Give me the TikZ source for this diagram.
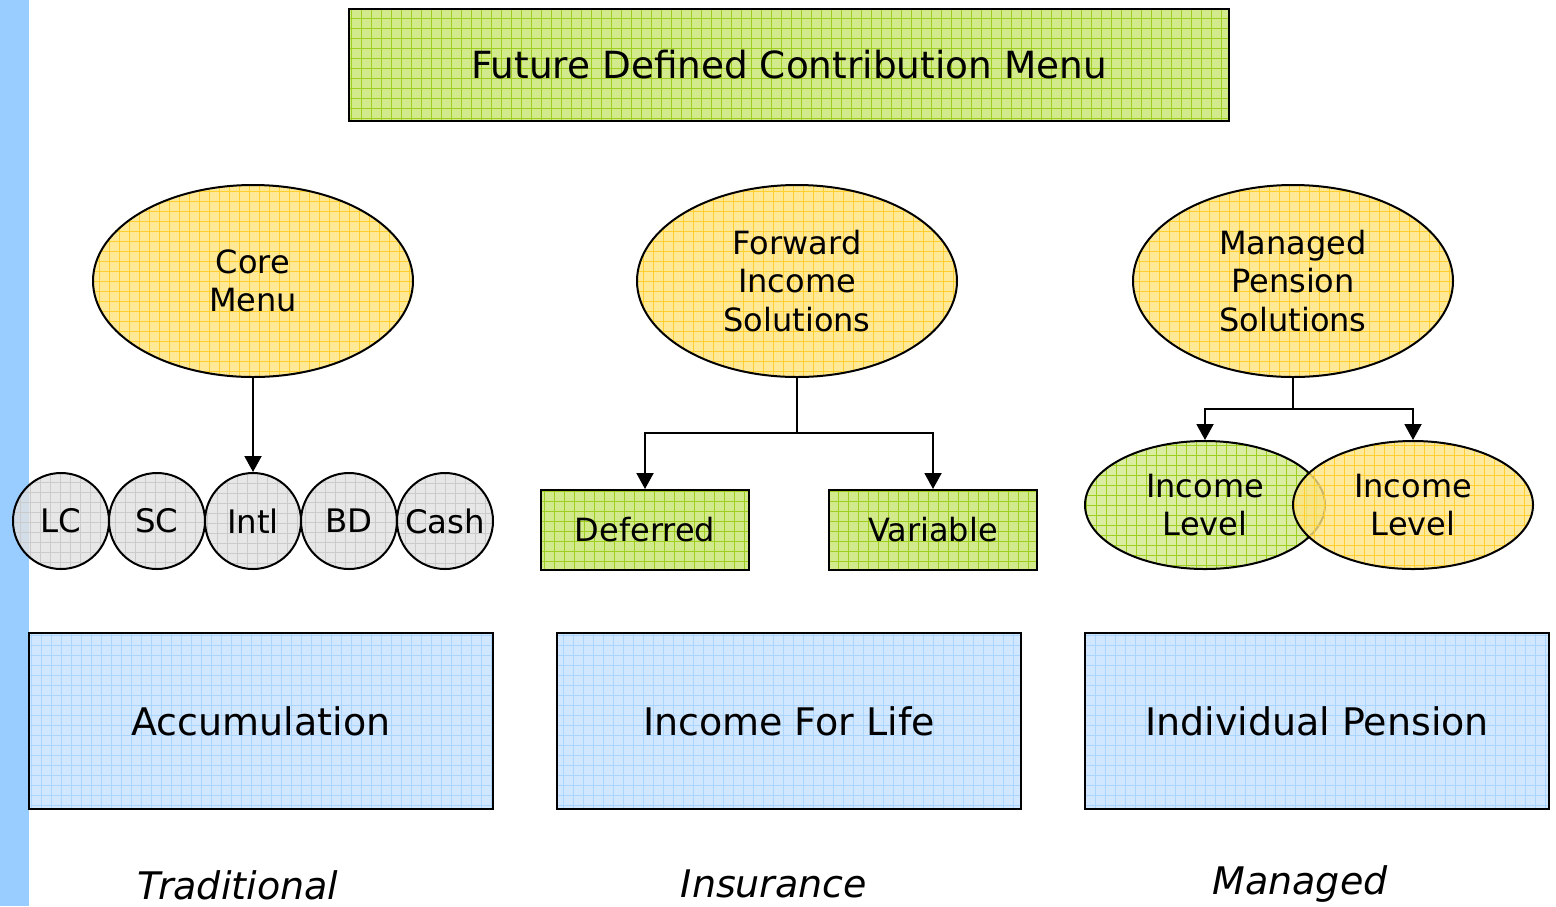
\documentclass[tikz,border=0pt]{standalone}
\usepackage{fontspec}
\setmainfont{DejaVu Sans}
\usetikzlibrary{shapes.geometric,arrows.meta}
\definecolor{strip}{HTML}{99CCFF}
\definecolor{gfill}{HTML}{D2E98C}
\definecolor{ggrid}{HTML}{9FCF1E}
\definecolor{yfill}{HTML}{FFE484}
\definecolor{ygrid}{HTML}{FFCF30}
\definecolor{cfill}{HTML}{E2E2E2}
\definecolor{cgrid}{HTML}{CBCBCB}
\definecolor{bfill}{HTML}{D0E7FF}
\definecolor{bgrid}{HTML}{AAD5FF}
\tikzset{
  gridfill/.style 2 args={fill=#1, path picture={\draw[#2, line width=0.5pt]
     ([xshift=-10pt,yshift=-10pt]path picture bounding box.south west) grid[step=5pt]
     ([xshift=10pt,yshift=10pt]path picture bounding box.north east);}},
  base/.style={draw=black, line width=1pt, inner sep=0pt, align=center, text=black},
  greenbox/.style={base, rectangle, gridfill={gfill}{ggrid}},
  bluebox/.style={base, rectangle, gridfill={bfill}{bgrid}, font=\fontsize{19}{23}\selectfont},
  yellipse/.style={base, ellipse, gridfill={yfill}{ygrid}, fill opacity=0.85, text opacity=1,
     minimum width=160pt, minimum height=96pt, font=\fontsize{16}{19.3}\selectfont},
  coin/.style={base, circle, gridfill={cfill}{cgrid}, fill opacity=0.8, text opacity=1,
     minimum size=48pt, font=\fontsize{16.2}{19}\selectfont},
  smallell/.style={base, ellipse, fill opacity=0.8, text opacity=1,
     minimum width=120pt, minimum height=64pt, font=\fontsize{16}{19.3}\selectfont},
  arr/.style={draw=black, line width=1pt, -{Triangle[length=8pt,width=8.5pt]}},
  conn/.style={draw=black, line width=1pt},
  lab/.style={font=\fontsize{19}{23}\selectfont\itshape, inner sep=0pt}
}
\begin{document}
\begin{tikzpicture}[x=0.5pt,y=-0.5pt]
\useasboundingbox (0,0) rectangle (1556,906);
\fill[white] (0,0) rectangle (1556,906);
\fill[strip] (0,0) rectangle (29,906);

\node[greenbox, minimum width=440pt, minimum height=56pt, font=\fontsize{18.7}{22}\selectfont] (title) at (789,65) {Future Defined Contribution Menu};

\node[yellipse] (core) at (253,281) {Core\\Menu};
\node[yellipse] (fwd) at (797,281) {Forward\\Income\\Solutions};
\node[yellipse] (mgd) at (1293,281) {Managed\\Pension\\Solutions};

\node[coin] (lc) at (61,521) {LC};
\node[coin] (sc) at (157,521) {SC};
\node[coin] (intl) at (253,521) {Intl};
\node[coin] (bd) at (349,521) {BD};
\node[coin] (cash) at (445,521) {Cash};

\node[greenbox, minimum width=104pt, minimum height=40pt, font=\fontsize{16}{19}\selectfont] (def) at (645,530) {Deferred};
\node[greenbox, minimum width=104pt, minimum height=40pt, font=\fontsize{16}{19}\selectfont] (var) at (933,530) {Variable};

\node[smallell, gridfill={gfill}{ggrid}] (inc1) at (1205,505) {Income\\Level};
\node[smallell, gridfill={yfill}{ygrid}] (inc2) at (1413,505) {Income\\Level};

\node[bluebox, minimum width=232pt, minimum height=88pt] (acc) at (261,721) {Accumulation};
\node[bluebox, minimum width=232pt, minimum height=88pt] (ifl) at (789,721) {Income For Life};
\node[bluebox, minimum width=232pt, minimum height=88pt] (ip) at (1317,721) {Individual Pension};

\node[lab] (trad) at (238,885) {Traditional};
\node[lab] (ins) at (774,884) {Insurance};
\node[lab] (man) at (1300,884) {Managed};

\draw[arr] (core.south) -- (intl.north);
\coordinate (fj) at (797,433);
\draw[conn] (fwd.south) -- (fj);
\draw[arr] (fj) -| (def.north);
\draw[arr] (fj) -| (var.north);
\coordinate (mj) at (1293,409);
\draw[conn] (mgd.south) -- (mj);
\draw[arr] (mj) -| (inc1.north);
\draw[arr] (mj) -| (inc2.north);
\end{tikzpicture}
\end{document}
